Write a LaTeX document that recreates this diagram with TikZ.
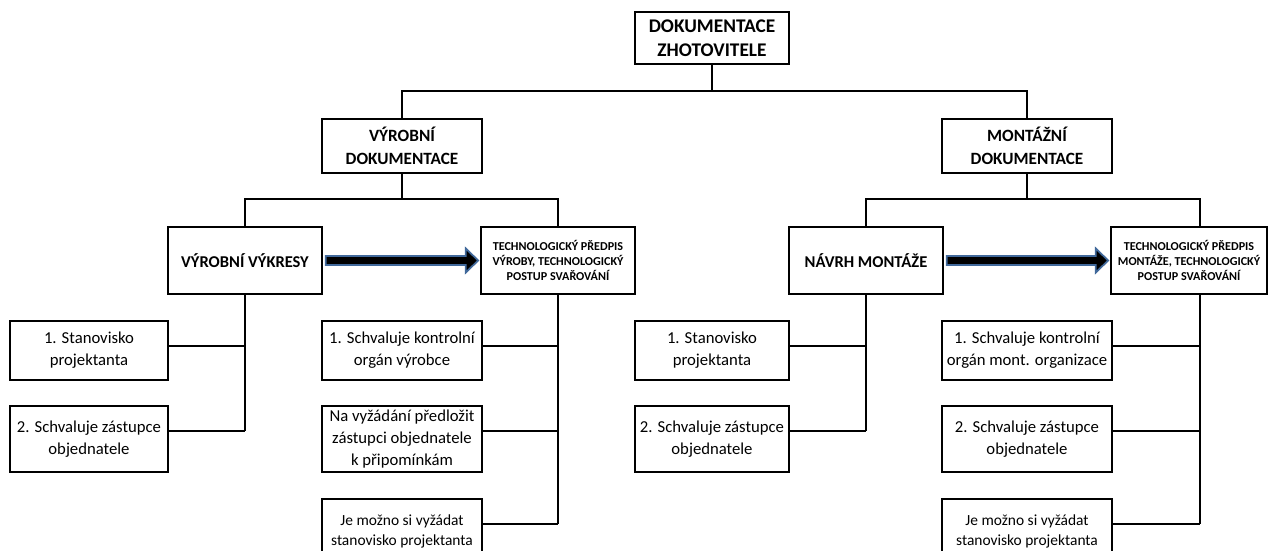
\documentclass[tikz,border=0pt]{standalone}
\usepackage{fontspec}
\setmainfont{Carlito}
\usepackage{xcolor}
\usepackage{tikz}
\usetikzlibrary{calc,positioning}
\definecolor{arrowblue}{RGB}{65,105,155}
\tikzset{x=0.02cm, y=-0.02cm}
\newcommand{\fatarrow}[2]{%
	\draw[fatarrow] let \p1=($(#1.east)+(3,0)$), \p2=($(#2.west)+(-2,0)$) in
	(\x1,\y1+\ShaftHalf) -- (\x2-\HeadLength,\y1+\ShaftHalf) --
	(\x2-\HeadLength,\y1+\HeadHalf) -- (\x2,\y1) --
	(\x2-\HeadLength,\y1-\HeadHalf) -- (\x2-\HeadLength,\y1-\ShaftHalf) --
	(\x1,\y1-\ShaftHalf) -- cycle;}

\begin{document}
\begin{tikzpicture}

	% Definitions.
	\tikzstyle{every node}=[
		inner sep=2pt,
		align=center
	]
	\tikzstyle{box}=[draw, line width=1pt, font=\fontsize{9.5}{12.5}\selectfont]
	\tikzstyle{smallbox}=[box, font=\fontsize{8.8}{11.3}\selectfont]
	\tikzstyle{headbox}=[box, font=\bfseries\fontsize{9.8}{13}\selectfont]
	\tikzstyle{techbox}=[box, font=\bfseries\fontsize{6.9}{8.5}\selectfont]
	\tikzstyle{link}=[line width=0.8pt]
	\tikzstyle{fatarrow}=[fill=black, draw=arrowblue, line width=1pt]
	\def\ShaftHalf{2.6pt}
	\def\HeadHalf{6.8pt}
	\def\HeadLength{7pt}
	\def\LinkDrop{0.52cm}

	\useasboundingbox (0,0) rectangle (1269,551);

	% ---------- Header ---------

	\node[headbox, font=\bfseries\fontsize{11}{13.6}\selectfont, minimum width=3.08cm, minimum height=1.04cm] (zhotovitel) at (712,38) {DOKUMENTACE\\ZHOTOVITELE};

	\node[headbox, minimum width=3.2cm, minimum height=1.08cm] (vyrobni) at (402,146) {VÝROBNÍ\\DOKUMENTACE};
	\node[headbox, minimum width=3.4cm, minimum height=1.08cm] (montazni) at (1027,146) {MONTÁŽNÍ\\DOKUMENTACE};

	\coordinate (busTop) at (zhotovitel.south |- 0,91);
	\draw[link] (zhotovitel.south) -- (busTop);
	\draw[link] (vyrobni.north) |- (busTop) -| (montazni.north);

	% ---------- Second level ---------

	\node[headbox, font=\bfseries\fontsize{9.4}{12}\selectfont, minimum width=3.08cm, minimum height=1.34cm] (vykresy) at (245,260.5) {VÝROBNÍ VÝKRESY};
	\node[techbox, minimum width=3.08cm, minimum height=1.34cm] (predpisV) at (558,260.5) {TECHNOLOGICKÝ PŘEDPIS\\VÝROBY, TECHNOLOGICKÝ\\POSTUP SVAŘOVÁNÍ};
	\node[headbox, font=\bfseries\fontsize{9.4}{12}\selectfont, minimum width=3.08cm, minimum height=1.34cm] (navrh) at (866,260.5) {NÁVRH MONTÁŽE};
	\node[techbox, minimum width=3.12cm, minimum height=1.34cm] (predpisM) at (1189,260.5) {TECHNOLOGICKÝ PŘEDPIS\\MONTÁŽE, TECHNOLOGICKÝ\\POSTUP SVAŘOVÁNÍ};

	\coordinate (busV) at (vyrobni.south |- 0,199);
	\coordinate (busM) at (montazni.south |- 0,199);
	\coordinate (spineM) at ([xshift=0.22cm]predpisM.south);
	\draw[link] (vyrobni.south) -- (busV);
	\draw[link] (vykresy.north) |- (busV) -| (predpisV.north);
	\draw[link] (montazni.south) -- (busM);
	\draw[link] (navrh.north) |- (busM) -| (spineM |- predpisM.north);

	\fatarrow{vykresy}{predpisV}
	\fatarrow{navrh}{predpisM}

	% ---------- Approvals ---------

	\node[box, minimum width=3.16cm, minimum height=1.18cm] (stanV) at (89,350.5) {1. Stanovisko\\projektanta};
	\node[box, minimum width=3.16cm, minimum height=1.32cm] (zastV) at (89,439) {2. Schvaluje zástupce\\objednatele};

	\node[box, minimum width=3.2cm, minimum height=1.18cm] (kontrolV) at (402,350.5) {1. Schvaluje kontrolní\\orgán výrobce};
	\node[box, minimum width=3.2cm, minimum height=1.32cm] (pripomV) at (402,439) {Na vyžádání předložit\\zástupci objednatele\\k připomínkám};
	\node[smallbox, minimum width=3.2cm, minimum height=1.3cm] (vyzadatV) at (402,531.5) {Je možno si vyžádat\\stanovisko projektanta};

	\node[box, minimum width=3.08cm, minimum height=1.18cm] (stanM) at (712,350.5) {1. Stanovisko\\projektanta};
	\node[box, minimum width=3.08cm, minimum height=1.32cm] (zastM) at (712,439) {2. Schvaluje zástupce\\objednatele};

	\node[box, minimum width=3.4cm, minimum height=1.18cm] (kontrolM) at (1027,350.5) {1. Schvaluje kontrolní\\orgán mont. organizace};
	\node[box, minimum width=3.4cm, minimum height=1.32cm] (zastM2) at (1027,439) {2. Schvaluje zástupce\\objednatele};
	\node[smallbox, minimum width=3.4cm, minimum height=1.3cm] (vyzadatM) at (1027,531.5) {Je možno si vyžádat\\stanovisko projektanta};

	% Spines and links.
	\foreach \n in {stanV,zastV,kontrolV,pripomV,vyzadatV,stanM,zastM,kontrolM,zastM2,vyzadatM}
		\coordinate (\n-link) at ([yshift=-\LinkDrop]\n.north east);

	\draw[link] (vykresy.south) -- (vykresy.south |- zastV-link);
	\foreach \n in {stanV,zastV}
		\draw[link] (\n-link) -- (\n-link -| vykresy.south);

	\draw[link] (predpisV.south) -- (predpisV.south |- vyzadatV-link);
	\foreach \n in {kontrolV,pripomV,vyzadatV}
		\draw[link] (\n-link) -- (\n-link -| predpisV.south);

	\draw[link] (navrh.south) -- (navrh.south |- zastM-link);
	\foreach \n in {stanM,zastM}
		\draw[link] (\n-link) -- (\n-link -| navrh.south);

	\draw[link] (spineM |- predpisM.south) -- (spineM |- vyzadatM-link);
	\foreach \n in {kontrolM,zastM2,vyzadatM}
		\draw[link] (\n-link) -- (\n-link -| spineM);

\end{tikzpicture}
\end{document}
